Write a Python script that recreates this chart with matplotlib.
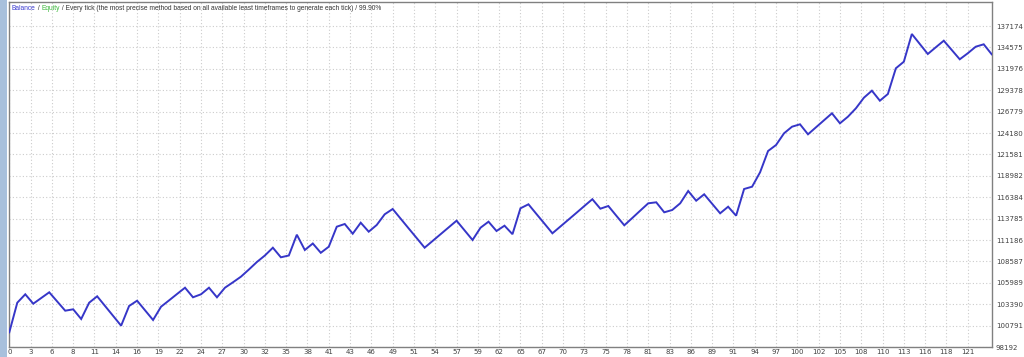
import matplotlib
matplotlib.use('Agg')
import matplotlib.pyplot as plt
from matplotlib.patches import Rectangle

# Balance after each trade
balance = [
    99977, 103572, 104592, 103450, 104143, 104835, 103717, 102600, 102770, 101592,
    103572, 104349, 103159, 101969, 100779, 103171, 103815, 102643, 101471, 103086,
    103851, 104628, 105393, 104228, 104592, 105393, 104228, 105393, 106049, 106729,
    107604, 108514, 109304, 110251, 109085, 109304, 111830, 109972, 110761, 109632,
    110372, 112801, 113129, 111951, 113287, 112194, 113008, 114307, 114951, 113773,
    112595, 111429, 110251, 111071, 111891, 112710, 113530, 112358, 111186, 112680,
    113409, 112279, 112923, 111891, 115036, 115522, 114344, 113178, 112000, 112826,
    113651, 114477, 115315, 116141, 114987, 115315, 114137, 112971, 113858, 114756,
    115643, 115764, 114550, 114829, 115643, 117137, 115959, 116736, 115582, 114428,
    115230, 114137, 117380, 117659, 119408, 121994, 122723, 124144, 124945, 125237,
    124022, 124872, 125722, 126572, 125358, 126160, 127180, 128467, 129317, 128103,
    128916, 132037, 132839, 136203, 134988, 133774, 134588, 135389, 134260, 133130,
    133859, 134660, 134952, 133738,
]

x_labels = ['0', '3', '6', '8', '11', '14', '16', '19', '22', '24', '27', '30', '32',
            '35', '38', '41', '43', '46', '49', '51', '54', '57', '59', '62', '65',
            '67', '70', '73', '75', '78', '81', '83', '86', '89', '91', '94', '97',
            '100', '102', '105', '108', '110', '113', '116', '118', '121']

y_labels = [98192, 100791, 103390, 105989, 108587, 111186, 113785, 116384,
            118982, 121581, 124180, 126779, 129378, 131976, 134575, 137174]

title_parts = [
    ('Balance', '#3a3ad0'),
    (' / ', '#333333'),
    ('Equity', '#3cb83c'),
    (' / Every tick (the most precise method based on all available least '
     'timeframes to generate each tick) / 99.90%', '#333333'),
]

W, H = 1024, 357
fig = plt.figure(figsize=(W / 100, H / 100), dpi=100, facecolor='white')

# plot frame in pixels
L, R, T, B = 9.3, 991.7, 2.0, 347.0
ax = fig.add_axes([L / W, (H - B) / H, (R - L) / W, (B - T) / H])
ax.set_facecolor('white')

# left window-edge strip
fig.patches.append(Rectangle((0, 0), 7 / W, 1, transform=fig.transFigure,
                             facecolor='#a8c0dc', edgecolor='none', zorder=0))

trades = list(range(len(balance)))
ax.plot(trades, balance, color='#3636c8', lw=1.4, solid_joinstyle='miter', zorder=3)

ax.set_xlim(0, len(balance) - 1)
label_top_px = 26.0
ytop = y_labels[0] + (B - T) * (y_labels[-1] - y_labels[0]) / (B - label_top_px)
ax.set_ylim(y_labels[0], ytop)

step = 8 / 3
ax.set_xticks([k * step for k in range(len(x_labels))])
ax.set_xticklabels(x_labels)
ax.set_yticks(y_labels)
ax.set_yticklabels([str(v) for v in y_labels])
ax.yaxis.tick_right()

ax.tick_params(axis='both', length=0, labelsize=5, colors='#404040')
ax.tick_params(axis='y', pad=3)
ax.tick_params(axis='x', pad=1.5)

ax.grid(True, color='#cccccc', linestyle=(0, (1, 2)), linewidth=0.8, zorder=1)
for s in ax.spines.values():
    s.set_color('#808080')
    s.set_linewidth(1.0)

# multi-coloured title line inside plot, fitted to the reference width
renderer = fig.canvas.get_renderer()
target_w = 373.0
fam = 'Liberation Sans'
probe = fig.text(0, 0, ''.join(p for p, _ in title_parts), fontsize=10, family=fam)
fs = 10 * target_w / probe.get_window_extent(renderer=renderer).width
probe.remove()

x_px = 12.0
for txt, col in title_parts:
    t = fig.text(x_px / W, 1 - 8.5 / H, txt, color=col, fontsize=fs,
                 ha='left', va='center', family=fam)
    x_px += t.get_window_extent(renderer=renderer).width

fig.savefig('out.png', dpi=100, facecolor='white')
